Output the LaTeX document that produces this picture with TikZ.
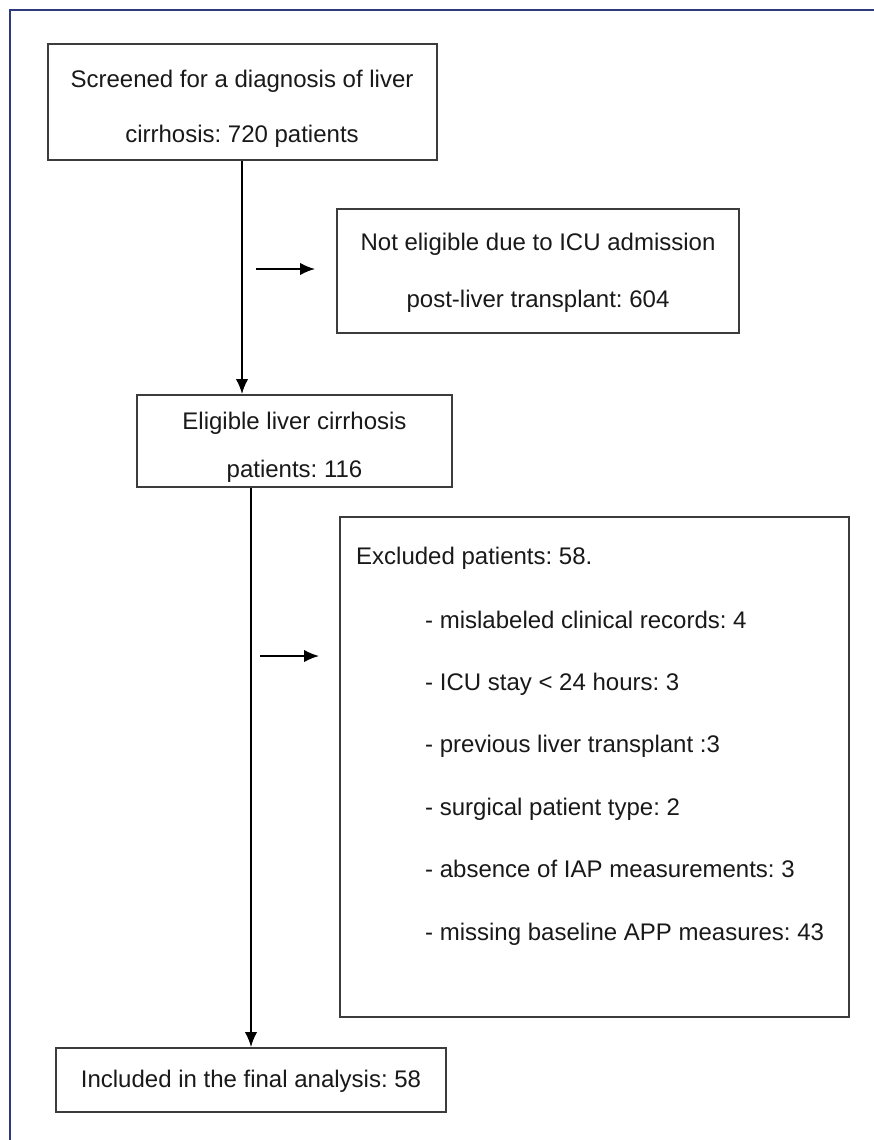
\documentclass[tikz,border=0pt]{standalone}
\usepackage{fontspec}
\setmainfont{Liberation Sans}
\frenchspacing
\usetikzlibrary{arrows.meta}
\definecolor{framecol}{RGB}{45,58,125}
\definecolor{boxcol}{RGB}{60,60,60}
\definecolor{txtcol}{RGB}{25,25,25}
\tikzset{
  x=1pt, y=-1pt,
  flowbox/.style={draw=boxcol, line width=2pt, rectangle, inner sep=0pt},
  lbl/.style={anchor=base, inner sep=0pt, text=txtcol, font=\fontsize{24}{28}\selectfont},
  lbll/.style={anchor=base west, inner sep=0pt, text=txtcol, font=\fontsize{24}{28}\selectfont},
  flow/.style={draw=black, line width=1.8pt, -{Latex[length=15pt,width=12.5pt]}},
}
\begin{document}
\begin{tikzpicture}
\useasboundingbox (0,0) rectangle (874,1140);
\fill[white] (0,0) rectangle (874,1140);
\draw[framecol, line width=1.6pt] (874,10) -- (10,10) -- (10,1140);

% boxes
\node[flowbox, minimum width=389pt, minimum height=116pt] (b1) at (242,102) {};
\node[flowbox, minimum width=402pt, minimum height=124pt] (b2) at (538,271) {};
\node[flowbox, minimum width=315pt, minimum height=92pt] (b3) at (294.5,441) {};
\node[flowbox, minimum width=509pt, minimum height=500pt] (b4) at (594.5,767) {};
\node[flowbox, minimum width=390pt, minimum height=64pt] (b5) at (251,1080) {};

% texts
\node[lbl] (t1a) at (242,87) {Screened for a diagnosis of liver};
\node[lbl] (t1b) at (242,142) {cirrhosis: 720 patients};
\node[lbl] (t2a) at (538,250) {Not eligible due to ICU admission};
\node[lbl] (t2b) at (538,307) {post-liver transplant: 604};
\node[lbl] (t3a) at (294.5,429) {Eligible liver cirrhosis};
\node[lbl] (t3b) at (294.5,477) {patients: 116};
\node[lbl] (t5) at (251,1087) {Included in the final analysis: 58};

\node[lbll] (e0) at (356,564) {Excluded patients: 58.};
\node[lbll] (e1) at (425,628) {- mislabeled clinical records: 4};
\node[lbll] (e2) at (425,690.4) {- ICU stay < 24 hours: 3};
\node[lbll] (e3) at (425,752.8) {- previous liver transplant :3};
\node[lbll] (e4) at (425,815.2) {- surgical patient type: 2};
\node[lbll] (e5) at (425,877.6) {- absence of IAP measurements: 3};
\node[lbll] (e6) at (425,940) {- missing baseline APP measures: 43};

% connectors
\draw[flow] (b1.south) -- (b1.south |- b3.north);
\draw[flow] (b5.north |- b3.south) -- (b5.north);

\coordinate (a1s) at (256,269);
\coordinate (a1e) at (315,269);
\coordinate (a2s) at (260,656);
\coordinate (a2e) at (319,656);
\draw[flow] (a1s) -- (a1e);
\draw[flow] (a2s) -- (a2e);
\end{tikzpicture}
\end{document}
